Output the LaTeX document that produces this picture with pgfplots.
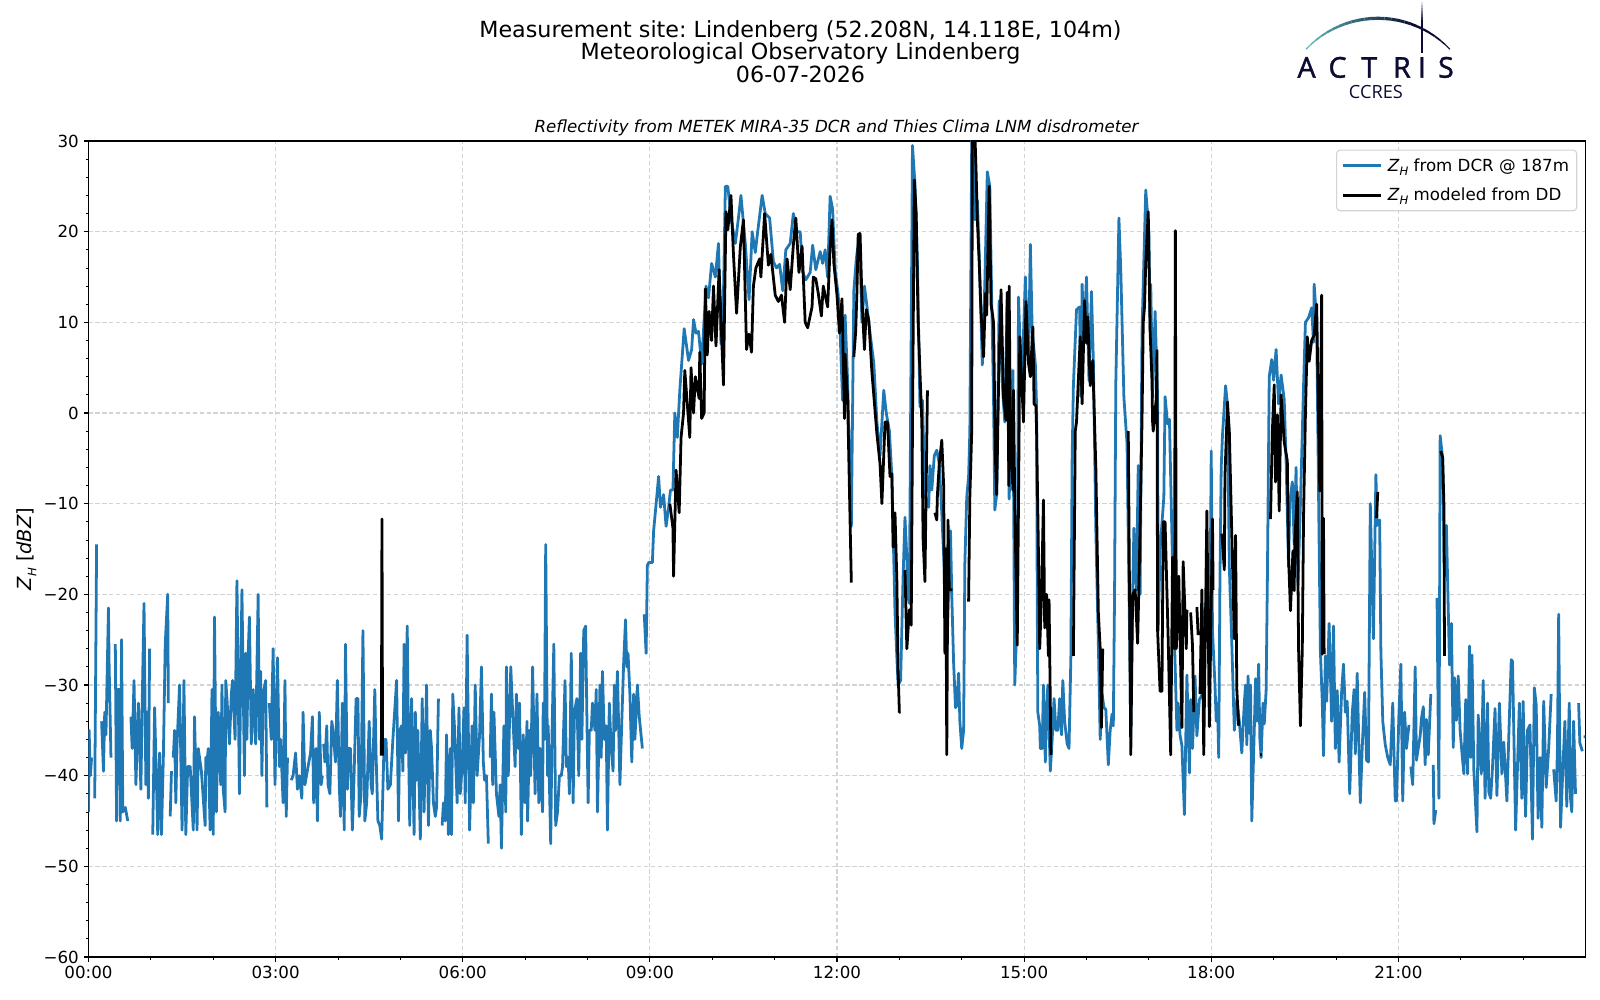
\documentclass[border=0pt]{standalone}
\usepackage{fontspec}
\setmainfont{DejaVu Sans}
\newfontfamily\logofont[FakeBold=1.5]{Open Sans}
\newfontfamily\logofontb{Open Sans}
\usepackage{pgfplots}
\pgfplotsset{compat=1.18}
\definecolor{mplblue}{HTML}{1F77B4}
\definecolor{gridc}{HTML}{D3D3D3}
\definecolor{navy}{HTML}{0B0B33}
\definecolor{tealc}{HTML}{5FBDBA}
\newcommand{\ZH}{\textit{Z}\raisebox{-0.45ex}{\fontsize{8.4bp}{10bp}\selectfont\textit{H}}}
\frenchspacing
\begin{document}
\begin{tikzpicture}
\path[use as bounding box] (0,0) rectangle (16in,10in);
\begin{axis}[
  at={(0.885in,0.43in)}, anchor=south west,
  scale only axis, width=14.97in, height=8.16in,
  xmin=0, xmax=24, ymin=-60, ymax=30,
  unbounded coords=jump,
  xtick={0,3,6,9,12,15,18,21},
  xticklabels={00:00,03:00,06:00,09:00,12:00,15:00,18:00,21:00},
  minor xtick={1,2,4,5,7,8,10,11,13,14,16,17,19,20,22,23},
  ytick={-60,-50,-40,-30,-20,-10,0,10,20,30},
  yticklabels={−60,−50,−40,−30,−20,−10,0,10,20,30},
  minor ytick={-58,-56,-54,-52,-48,-46,-44,-42,-38,-36,-34,-32,-28,-26,-24,-22,-18,-16,-14,-12,-8,-6,-4,-2,2,4,6,8,12,14,16,18,22,24,26,28},
  tick align=outside, tick pos=left,
  axis line style={line width=0.8bp},
  major tick style={line width=0.8bp,black},
  minor tick style={line width=0.6bp,black},
  major tick length=3.5bp, minor tick length=2bp,
  tick label style={font=\fontsize{12bp}{14bp}\selectfont},
  xticklabel style={yshift=0.5bp},
  grid=major,
  major grid style={gridc,line width=0.8bp,dash pattern=on 3bp off 2bp},
  axis on top=false,
  ylabel={\ZH{} [\textit{dBZ}]},
  ylabel style={font=\fontsize{14bp}{16bp}\selectfont, at={(axis description cs:0,0.5)}, anchor=south, yshift=34bp},
  legend cell align=left,
  legend style={at={(0.9945,0.9895)}, anchor=north east, draw=gridc, fill=white, fill opacity=0.8, text opacity=1, draw opacity=1, rounded corners=2.5bp, font=\fontsize{12bp}{14bp}\selectfont, inner xsep=3.5bp, inner ysep=4bp, /tikz/row sep=6.5bp, /tikz/column sep=2bp, line width=0.8bp},
  legend image code/.code={\draw[#1,line width=2bp] (0,0) -- (0.38in,0);},
]
\addplot[mplblue, line width=2bp, line join=round] coordinates {
(0.00,-44)(0.01,-35)(0.03,-40)(0.05,-38)(0.07,nan)
(0.10,-42.5)(0.13,-14.5)(0.17,nan)
(0.21,-34)(0.24,-39.5)(0.26,-33)(0.28,-35.5)(0.32,-21.5)(0.33,-27.5)(0.36,-38)(0.40,nan)
(0.43,-25.5)(0.45,-45)(0.47,-30.5)(0.50,-30.5)(0.51,-45)(0.53,-25)(0.55,-44)(0.59,-43.5)(0.63,-45)(0.65,nan)
(0.68,-33.5)(0.70,-37)(0.73,-29.5)(0.76,-41)(0.80,-32)(0.84,-41.5)(0.86,-32.5)(0.89,-21)(0.92,-41)(0.94,-33)(0.96,-42.5)(0.98,-26)(1.00,nan)
(1.03,-46.5)(1.06,-32.5)(1.11,-46.5)(1.14,-37.5)(1.17,-46.5)(1.20,-38)(1.23,-25.5)(1.27,-20)(1.28,-32)(1.29,nan)
(1.31,-44.5)(1.33,-39.5)(1.35,nan)
(1.36,-38)(1.38,-35)(1.40,-43)(1.42,-36.5)(1.46,-30)(1.50,-46)(1.53,-29.5)(1.56,-46.5)(1.59,-39)(1.63,-39)(1.68,-46)(1.70,-33.5)(1.74,-46)(1.76,-37)(1.81,-39.5)(1.87,-45.5)(1.88,-38)(1.90,-38.5)(1.92,-37)(1.95,-46)(1.98,-30.5)(2.00,-46.5)
(2.02,-22.5)(2.05,-44)(2.08,-33)(2.12,-41)(2.14,-30)(2.16,-41.5)(2.19,-44)(2.20,-29.5)(2.22,-31.5)(2.26,-36.5)(2.29,-31)(2.31,-29.5)(2.35,-36)(2.38,-18.5)(2.42,-42)(2.44,-29)(2.46,-19.5)(2.50,-40)(2.52,-26.5)(2.54,-36)(2.56,-26.5)(2.58,-22.5)(2.61,-36.5)(2.64,-30.5)(2.68,-36.5)(2.72,-20)(2.74,-36)(2.76,-28.5)(2.78,-40)(2.80,-31)(2.84,-29.5)(2.86,-43.5)(2.88,nan)
(2.90,-32)(2.93,-36)(2.96,-26)(2.99,-41)(3.03,-27)(3.06,-39)(3.08,-36)(3.12,-43)(3.15,-29.5)(3.17,-44.5)(3.19,-38)(3.22,nan)
(3.25,-40.5)(3.28,-40)(3.32,-37.5)(3.35,-41.5)(3.38,-40)(3.42,-42.5)(3.44,-33)(3.47,-41)(3.52,-39)(3.56,-37.5)(3.59,-33.5)(3.61,-43)(3.65,-37)(3.67,-45)(3.70,-33)(3.73,-41)(3.75,-40)(3.76,nan)
(3.77,-36.5)(3.79,-38.5)(3.82,-34.5)(3.84,-41)(3.87,-42)(3.90,-34)(3.92,-35)(3.96,-38.5)(3.99,-29.5)(4.02,-41)(4.04,-44.5)(4.07,-32)(4.10,-46)(4.12,-25.5)(4.15,-41.5)(4.17,-37)(4.20,-37)(4.23,-46)(4.25,-42)(4.29,-31.5)(4.32,-31.5)(4.34,-44.5)(4.37,-42)(4.40,-24)(4.43,-45)(4.46,-43)(4.50,-34)(4.53,-41)(4.55,-42)(4.59,-30.5)(4.61,-37.5)(4.64,-45)(4.67,-45.5)(4.70,-47)(4.74,-36)(4.77,-36)(4.80,-41.5)(4.84,-41)(4.88,-36)(4.94,-29.5)(4.97,-45)
(4.99,-35)(5.02,-34.5)(5.04,-39.5)(5.06,-25.5)(5.08,-37.5)(5.11,-23.5)(5.13,-36)(5.15,-45.5)(5.18,-31.5)(5.22,-46.5)(5.24,-33)(5.26,-40.5)(5.28,-35)(5.32,-47)(5.35,-31.5)(5.38,-44)(5.42,-30)(5.45,-45.5)(5.48,-35)(5.50,-37)(5.53,-43)(5.56,-44.5)(5.58,-43.5)(5.61,-31.5)(5.64,nan)
(5.67,-45.5)(5.69,-43)(5.72,-45)(5.74,-35.5)(5.77,-46.5)(5.80,-37)(5.82,-46.5)(5.84,-31)(5.87,-35)(5.91,-43)(5.94,-32.5)(5.96,-42)(5.99,-39)(6.02,-32.5)(6.04,-43)(6.07,-24.5)(6.11,-46)(6.15,-34.5)(6.17,-43)(6.20,-30)(6.23,-40)(6.27,-35.5)(6.30,-28)(6.33,-38.5)(6.35,-40.5)(6.38,-40)(6.41,-47.5)(6.42,nan)
(6.44,-38)(6.46,-31)(6.48,-41)(6.50,-33)(6.54,-42)(6.58,-44.5)(6.60,-41)(6.62,-48)(6.66,-34.5)(6.69,-44)(6.70,-28)(6.73,-40)(6.77,-28)(6.80,-33)(6.84,-39)(6.86,-31)(6.89,-37)(6.91,-32)(6.94,-46.5)(6.97,-35.5)(7.00,-43)(7.03,-34)(7.04,-45)(7.07,-35)(7.09,-40)(7.12,-28)(7.16,-42)(7.19,-31)(7.22,-43)(7.24,-37)(7.28,-44)(7.29,-32)(7.31,-36)(7.33,-14.5)(7.36,-40)(7.37,-34.5)(7.41,-47.5)(7.43,-36)(7.46,-25.5)(7.49,-45.5)(7.52,-44)(7.55,-40)(7.58,-40)(7.60,-39)(7.64,-29.5)(7.66,-39)(7.69,-38)(7.71,-42)(7.74,-26.5)(7.77,-43)(7.79,-33)(7.83,-31.5)(7.86,-40)(7.89,-26.5)(7.91,-36)(7.94,-24)(7.97,-23.5)
(8.01,-43)(8.03,-35)(8.06,-35)(8.08,-32)(8.12,-35)(8.14,-30.5)(8.16,-44)(8.20,-30)(8.22,-38)(8.24,-28.5)(8.27,-36)(8.30,-34.5)(8.32,-46)(8.35,-32)(8.38,-37)(8.41,-39.5)(8.43,-30)(8.45,-35)(8.48,-28.5)(8.52,-41)(8.55,-34)(8.58,-27.5)(8.61,-22.8)(8.63,-28)(8.65,-26.5)(8.68,-31)(8.71,-38.5)(8.74,-31)(8.76,-36)(8.80,-30)(8.83,-33.5)(8.88,-37)(8.90,nan)
(8.91,-22.2)(8.94,-26.5)(8.96,-16.8)(8.98,-16.5)(9.04,-16.5)(9.06,-13)(9.09,-10.8)
(9.14,-7)(9.17,-10.4)(9.22,-9)(9.26,-12.5)(9.30,-10.5)(9.33,-8.5)(9.37,-8.5)(9.40,0)(9.44,-2.7)(9.48,2.5)(9.55,9.3)(9.62,5.8)(9.67,7)(9.70,10.3)(9.74,8.8)(9.78,9)(9.83,5.4)(9.90,14)(9.94,12.7)(9.99,16.5)(10.05,15)(10.10,18.7)(10.14,7.6)(10.18,13)(10.21,25)(10.25,25)(10.30,21.5)(10.37,18.7)(10.42,21.5)(10.46,24)(10.53,18.7)(10.59,12.5)(10.64,20)(10.69,17.7)(10.72,19.5)(10.80,24)(10.85,22)(10.92,21.5)(10.98,16.7)(11.03,16)(11.08,16.4)(11.13,13.5)(11.18,18)(11.25,18.7)(11.30,22)(11.36,20)(11.41,20)(11.45,15.5)(11.50,14.7)(11.57,15.5)(11.61,18.5)(11.66,15.8)(11.73,17.8)(11.77,16.5)(11.81,18)(11.85,15)(11.89,23.9)(11.93,22.5)(11.97,15.8)
(12.02,13)(12.05,8.8)(12.09,1.4)(12.13,10.8)(12.17,3.6)(12.23,-12.5)(12.27,13.5)(12.31,17)(12.36,19.8)(12.40,10)(12.44,14)(12.48,11.8)(12.53,8.8)(12.59,5.5)(12.64,-1)(12.69,-4.7)(12.75,2.5)(12.79,0)(12.84,-2)(12.88,-7)(12.93,-22)(12.96,-27)(12.98,-30)(13.02,-29.5)(13.06,-18)(13.09,-11.5)(13.12,-16)(13.13,-20)(13.16,-21)(13.21,29.5)(13.25,25.3)(13.29,16.5)(13.33,0.7)(13.37,1.4)(13.41,-9)(13.47,-10.4)(13.49,-5.8)(13.52,-8.5)(13.56,-4.7)(13.60,-4.1)(13.64,-5.6)(13.68,-11)(13.72,-17.3)(13.76,-26.5)(13.82,-13)(13.84,-20)(13.87,-27.6)(13.90,-32.5)(13.92,-32.3)(13.95,-28.7)(13.97,-34)(14.00,-37)(14.03,-35)(14.05,-16.6)(14.08,-9.3)(14.11,-7)(14.13,-2)(14.16,30)(14.19,31)(14.21,21.3)(14.25,23.5)(14.28,17.5)(14.33,5.3)(14.37,14.3)(14.41,26.6)(14.45,25)(14.48,12.5)(14.51,1.7)(14.53,-10.7)(14.56,-9)(14.60,12.4)(14.62,8.4)(14.66,2)(14.69,-1)(14.73,13.3)(14.76,-9.5)(14.82,4.7)(14.85,-30)(14.89,-22)(14.91,12.8)(14.96,2.5)(15.02,15)(15.07,5.5)(15.10,18.6)(15.13,9)(15.18,5.4)(15.20,0.7)(15.21,-20)(15.22,-33)(15.25,-34.5)(15.26,-37)(15.29,-37)(15.31,-30)(15.34,-38.5)(15.36,-33)(15.38,-30)(15.42,-39.5)(15.45,-36)(15.48,-31.5)(15.51,-35)(15.54,-35)(15.57,-31.5)(15.60,-35.5)(15.62,-29.5)(15.65,-34)(15.69,-36.5)(15.72,-37)(15.75,-26.8)(15.77,-5)(15.79,3)(15.84,11.4)(15.89,11.7)(15.91,1.8)(15.93,14.2)(15.96,8.4)(16.00,15)(16.04,3.6)(16.08,13.4)(16.11,5.8)(16.15,-13)(16.19,-25.4)(16.22,-36)(16.25,-31)(16.28,-32.5)(16.31,-32.7)(16.35,-38.8)(16.38,-35)(16.41,-33.2)(16.43,-34.5)(16.45,-20)(16.47,3.2)(16.52,21.5)(16.55,15.7)(16.60,1.7)(16.65,-3.4)(16.69,-24)(16.71,-35.6)(16.73,-24)(16.76,-12.7)(16.80,-19.5)(16.83,-5.8)(16.86,-20)(16.89,9)(16.95,24.6)(17.00,20)(17.02,9.2)(17.03,14.2)(17.06,1.7)(17.10,11.2)(17.14,1.7)(17.15,-24)(17.18,-15)(17.24,-9.3)(17.26,1.8)(17.30,-1.2)(17.33,-0.7)(17.34,-4)(17.39,-20)(17.42,-27.5)(17.45,-35)(17.47,-32)(17.50,-35.5)(17.53,-36.7)(17.57,-44.3)(17.61,-28.9)(17.65,-39.7)(17.67,-31.6)(17.70,-37)(17.74,-29)(17.77,-35.6)(17.81,-31.6)(17.86,-31)(17.90,-21)(17.96,-23.5)(17.99,-13)(18.00,-4.2)(18.02,-24)(18.06,-30)(18.08,-34)(18.10,-32)(18.12,-38)(18.14,-18)(18.16,-6)(18.18,-2.5)(18.23,3)(18.26,1)(18.29,-17)(18.33,-25.5)(18.37,-35)(18.41,-31.6)(18.45,-34)(18.49,-37.5)(18.53,-32)(18.55,-30)(18.57,-36.6)(18.59,-29)(18.62,-35.4)(18.63,-30)(18.65,-45)(18.69,-35)(18.71,-29.3)(18.73,-34)(18.76,-27.7)(18.78,-36)(18.80,-38)(18.83,-32)(18.85,-34.3)(18.88,-30.6)(18.90,-18.4)(18.93,4)(18.97,5.9)(19.00,3.6)(19.04,7)(19.08,1)(19.12,4.2)(19.17,1.5)(19.20,-5.3)(19.24,-17)(19.26,-9.8)(19.30,-7.6)(19.33,-14.5)(19.36,-6)(19.39,-19)(19.43,-10)(19.48,3)(19.51,10)(19.56,10.5)(19.61,11.6)(19.64,7.8)(19.65,14.2)(19.69,10)(19.72,-8.6)(19.75,-26.3)(19.78,-31.8)(19.80,-37.8)(19.83,-26.8)(19.85,-31.8)(19.89,-23.2)(19.93,-34)(19.96,-23.5)(19.99,-37)(20.02,-30.6)(20.05,-38.5)(20.09,-30.8)(20.12,-27.7)(20.15,-33)(20.18,-31.8)(20.22,-42)(20.26,-33.2)(20.29,-30.5)(20.31,-37.6)(20.34,-28.7)(20.36,-34.7)(20.39,-43)(20.42,-37)(20.46,-30.8)(20.49,-38.3)(20.52,-38.5)(20.55,-10)(20.60,-24.9)(20.64,-6.8)(20.66,-12.4)(20.70,-11.8)(20.72,-26.3)(20.75,-34)(20.79,-36.6)(20.83,-38)(20.87,-38.8)(20.91,-32)(20.95,-42.8)(20.97,-42.8)(21.01,-33)(21.04,-27.7)(21.07,-42.8)(21.10,-33)(21.13,-37)(21.17,-34.4)(21.19,nan)
(21.20,-39)(21.23,-41)(21.27,-28)(21.29,-38.3)(21.35,-35.6)(21.37,-33.7)(21.40,-32.4)(21.43,-38.8)(21.45,-33.8)(21.48,-37.7)(21.52,-31)(21.54,nan)
(21.56,-38.8)(21.57,-45.3)(21.60,-43.8)(21.61,nan)
(21.62,-20.4)(21.65,-42.5)(21.67,-2.5)(21.71,-5)(21.74,-18)(21.77,-12.4)(21.82,-27.8)(21.85,-23.2)(21.88,-36.9)(21.90,-29.2)(21.93,-33.9)(21.96,-29)(21.99,-35)(22.02,-37.5)(22.05,-39.8)(22.08,-31.6)(22.11,-39.8)(22.14,-25.7)(22.16,-38)(22.18,-26.7)(22.21,-39.4)(22.26,-46.2)(22.28,-33.3)(22.33,-39.8)(22.36,-29.5)(22.39,-42.5)(22.43,-32)(22.45,-41.8)(22.48,-42.5)(22.51,-39)(22.55,-32.6)(22.58,-42.2)(22.62,-32)(22.66,-39.8)(22.69,-36.3)(22.74,-42.8)(22.78,-33.5)(22.81,-27.2)(22.83,-27.4)(22.88,-46)(22.91,-39)(22.94,-32)(22.98,-42.5)(23.00,-31.8)(23.04,-44.5)(23.07,-35)(23.11,-34.4)(23.15,-47)(23.18,-30.3)(23.21,-32.2)(23.24,-44.7)(23.27,-38)(23.30,-45.7)(23.33,-31.8)(23.37,-41.3)(23.41,-37)(23.45,-31)(23.47,nan)
(23.49,-39.3)(23.53,-42.8)(23.55,-37)(23.57,-22.2)(23.60,-45.7)(23.64,-38.8)(23.67,-34)(23.70,-43.4)(23.74,-32)(23.76,-42.5)(23.78,-44)(23.81,-34)(23.84,-42)(23.86,nan)
(23.89,-32)(23.91,-36.4)(23.95,-37.3)(23.96,nan)
(23.97,-35.7)(24.00,-35.7)
};
\addlegendentry{\ZH{} from DCR @ 187m}
\addplot[black, line width=2bp, line join=round] coordinates {
(4.695,-37.8)(4.705,-11.7)(4.715,-37.8)(4.72,nan)
(9.32,-10)(9.37,-12.7)(9.38,-18)(9.42,-6.3)(9.47,-11)(9.50,-2.7)(9.54,0)(9.56,4.7)(9.60,1)(9.64,-2.7)(9.66,5)(9.70,0)(9.73,4)(9.79,1.6)(9.80,6.7)(9.83,-0.6)(9.87,0)(9.89,13.7)(9.92,6.4)(9.95,11.2)(9.99,8)(10.02,14)(10.06,7.4)(10.11,15.8)(10.18,3.1)(10.22,22.2)(10.25,20.2)(10.30,24)(10.34,17.5)(10.39,11)(10.45,18.3)(10.50,21.3)(10.55,7)(10.59,8.7)(10.63,6.7)(10.66,14)(10.70,16)(10.76,17)(10.78,15)(10.84,22)(10.90,16.3)(10.94,17.5)(11.01,13)(11.06,12.3)(11.11,13)(11.16,10)(11.20,17)(11.25,13.6)(11.30,18.5)(11.34,21.5)(11.39,15.5)(11.44,18.4)(11.49,10)(11.53,9.4)(11.60,11.7)(11.62,15)(11.66,14.8)(11.70,13.2)(11.75,10.7)(11.78,14)(11.81,13)(11.85,11.7)(11.89,18.3)(11.92,21.3)(11.95,16.5)(12.00,13)(12.04,8.8)(12.08,12.6)(12.12,-0.6)(12.13,6.5)(12.17,1.7)(12.21,-12)(12.23,-18.7)(12.25,nan)
(12.27,6.2)(12.30,9)(12.32,13.4)(12.34,19.7)(12.37,19.8)(12.40,12.6)(12.44,7)(12.47,11.4)(12.51,10.2)(12.56,4.5)(12.64,-2.3)(12.69,-5.6)(12.72,-10)(12.77,-1)(12.81,-1)(12.85,-7)(12.88,-6.7)(12.90,-14.8)(12.93,-11)(12.96,-18.5)(12.98,-28.5)(13.00,-33)(13.02,-33)(13.05,nan)
(13.09,-17.3)(13.12,-26)(13.16,-21.7)(13.19,-23.4)(13.21,-2)(13.24,25.7)(13.27,22)(13.30,10.2)(13.36,-1)(13.38,-13.8)(13.41,-18.6)(13.45,2.5)(13.46,nan)
(13.57,-11)(13.60,-11.8)(13.61,-9)(13.64,-5.6)(13.68,-3)(13.71,-8)(13.73,-26.5)(13.745,-15)(13.76,-37.7)(13.78,-11.8)(13.80,-19.5)(13.85,-19.5)(13.87,nan)
(14.11,-20.8)(14.13,-9.3)(14.16,-2)(14.17,30)(14.21,31)(14.23,26.7)(14.25,21.3)(14.28,16.6)(14.31,11)(14.35,6.2)(14.38,13.2)(14.40,10.8)(14.44,25)(14.47,12)(14.51,10)(14.54,-5)(14.56,-9)(14.59,3)(14.63,13.6)(14.67,1.7)(14.71,-0.8)(14.73,13.3)(14.755,-8)(14.76,14)(14.78,-1.8)(14.82,-8.5)(14.83,2.5)(14.85,-10)(14.89,-25.6)(14.92,-1.9)(14.93,8.4)(14.99,-1)(15.03,12.3)(15.07,5.5)(15.10,4)(15.14,9.5)(15.16,1)(15.19,0.8)(15.20,-2)(15.23,-15.5)(15.25,-26)(15.28,-20)(15.31,-9.6)(15.33,-23.7)(15.36,-20)(15.39,-26.8)(15.40,-20.6)(15.43,-37.7)(15.45,nan)
(15.79,-26.8)(15.82,-2)(15.84,-1)(15.90,8.4)(15.93,1)(15.97,12.4)(16.00,7.7)(16.02,10.6)(16.06,3)(16.10,5.8)(16.15,-6)(16.19,-22)(16.22,-26)(16.24,-34.7)(16.26,-26)(16.28,nan)
(16.67,-2)(16.71,-37.7)(16.74,-20)(16.78,-19.5)(16.82,-25.4)(16.85,-15.9)(16.89,-1)(16.91,10)(16.93,11.7)(16.95,16.5)(16.99,22.2)(17.02,9)(17.05,3.6)(17.06,-1)(17.07,-2)(17.12,1.7)(17.13,6.9)(17.14,-24)(17.18,-30.7)(17.21,-30.7)(17.23,-12)(17.26,-12)(17.31,-25)(17.35,-37.7)(17.38,-15.9)(17.41,-26)(17.425,20.1)(17.44,-26)(17.48,-18)(17.53,-34.7)(17.55,-16.4)(17.60,-26)(17.61,-21.7)(17.63,nan)
(17.67,-22)(17.70,-25.7)(17.72,-33)(17.74,nan)
(17.77,-21.4)(17.79,-24.5)(17.81,nan)
(17.82,-31)(17.85,-19.5)(17.88,-37.7)(17.93,-10.8)(17.97,-34.6)(18.02,-11.7)(18.03,-19.5)(18.05,nan)
(18.17,-13.3)(18.21,-17.3)(18.22,-7)(18.26,1.2)(18.29,-2)(18.33,-13.5)(18.37,-24.9)(18.39,-13.5)(18.41,-30.5)(18.44,-34.5)(18.46,nan)
(18.78,-37.7)(18.81,-37.7)(18.85,nan)
(18.95,-11.7)(18.98,-2)(19.01,3.1)(19.03,-7.6)(19.06,-0.2)(19.09,-10.8)(19.12,2)(19.17,-3.2)(19.22,-5.3)(19.24,-16)(19.27,-21.8)(19.31,-15.2)(19.33,-19.6)(19.34,-14)(19.38,-8.7)(19.40,-26)(19.43,-34.5)(19.46,-26)(19.48,-11.4)(19.51,-0.2)(19.54,8.4)(19.57,5.7)(19.61,8)(19.65,8.6)(19.69,12)(19.70,7.8)(19.74,-8.6)(19.77,13)(19.78,-26.6)(19.80,-11.6)(19.81,-26.6)(19.83,nan)
(20.65,-11.6)(20.67,-8.7)(20.69,nan)
(21.68,-4.2)(21.71,-4.9)(21.73,-10)(21.74,-26.8)
};
\addlegendentry{\ZH{} modeled from DD}
\end{axis}
% titles
\begin{scope}[x=0.01in,y=-0.01in,yshift=10in]
\node[font=\fontsize{16bp}{18bp}\selectfont,anchor=base] at (801,38) {Measurement site: Lindenberg (52.208N, 14.118E, 104m)};
\node[font=\fontsize{16bp}{18bp}\selectfont,anchor=base] at (801,60) {Meteorological Observatory Lindenberg};
\node[font=\fontsize{16bp}{18bp}\selectfont,anchor=base] at (801,83) {06-07-2026};
\node[font=\fontsize{12bp}{14bp}\selectfont\itshape,anchor=base] at (837,133) {Reflectivity from METEK MIRA-35 DCR and Thies Clima LNM disdrometer};
% logo: arc, stem and lettering
\foreach \i in {0,...,23}{
  \pgfmathsetmacro\aone{136.6-\i*93.2/24}
  \pgfmathsetmacro\atwo{136.6-(\i+1)*93.2/24}
  \pgfmathsetmacro\t{min(100,\i*100/17)}
  \pgfmathsetmacro\w{0.7+1.6*sin(180*(\i+0.5)/24)}
  \draw[color=navy!\t!tealc,line width=\w bp] ({1378.7+99.1*cos(\aone)},{117.4-99.1*sin(\aone)}) -- ({1378.7+99.1*cos(\atwo)},{117.4-99.1*sin(\atwo)});
}
\draw[navy,line width=1.5bp] (1422.7,20) -- (1422.7,53);
\foreach \i in {0,...,5}{
  \pgfmathsetmacro\op{(\i+1)/7}
  \draw[navy,opacity=\op,line width=1.5bp] (1422.7,{2+3*\i}) -- (1422.7,{5+3*\i});
}
\foreach \lx/\ll in {1307.3/A,1338.3/C,1370/T,1402.7/R,1422.7/I,1446.7/S}{
  \node[navy,anchor=base,inner sep=0pt,font=\fontsize{20.6bp}{22bp}\logofont] at (\lx,77.7) {\ll};
}
\node[navy,anchor=base,inner sep=0pt,font=\fontsize{13.1bp}{15bp}\logofontb] at (1376.7,99) {CCRES};
\end{scope}
\end{tikzpicture}
\end{document}
